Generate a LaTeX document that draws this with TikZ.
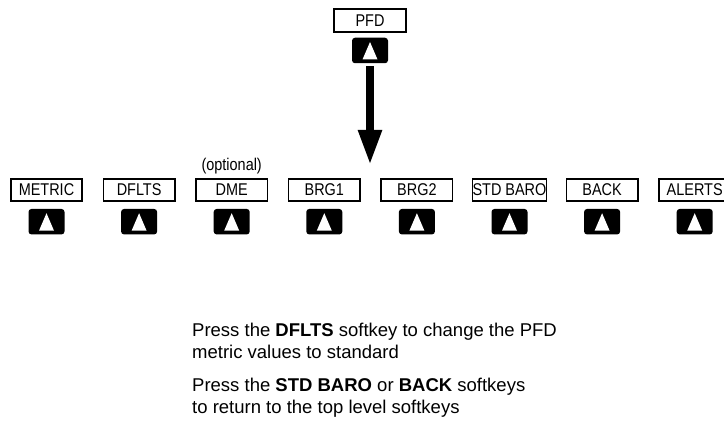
\documentclass[tikz,border=0pt]{standalone}
\usepackage{fontspec}
\setmainfont{Liberation Sans}
\newfontfamily\keyfont[FakeStretch=0.85]{Liberation Sans}
\usetikzlibrary{arrows.meta, positioning}

\begin{document}
\begin{tikzpicture}[
    x=1pt, y=-1pt,
    softkey/.style={rectangle, draw=black, line width=1.6pt, minimum width=71.5pt, minimum height=22.5pt, inner sep=0pt, font=\keyfont\fontsize{17}{18}\selectfont},
    keybtn/.style={rectangle, rounded corners=3pt, fill=black, minimum width=36pt, minimum height=25.5pt, inner sep=0pt,
        path picture={\fill[white, sharp corners] ([xshift=-7.5pt,yshift=-9pt]path picture bounding box.center) -- ([xshift=7.5pt,yshift=-9pt]path picture bounding box.center) -- ([yshift=8.5pt]path picture bounding box.center) -- cycle;}},
    arrow/.style={-{Triangle[length=35pt, width=22pt]}, line width=8pt},
    note/.style={anchor=base west, inner sep=0pt, font=\fontsize{18.5}{22}\selectfont}
]
    \useasboundingbox (0,0) rectangle (724,427);

    % Top level key
    \node[softkey] (pfd) at (370, 20.5) {PFD};
    \node[keybtn] (pfdkey) at (370, 50.5) {};

    % Softkey row
    \node[softkey] (metric) at (46.5, 190) {METRIC};
    \node[softkey] (dflts) at (139.1, 190) {DFLTS};
    \node[softkey] (dme) at (231.7, 190) {DME};
    \node[softkey] (brgone) at (324.3, 190) {BRG1};
    \node[softkey] (brgtwo) at (416.9, 190) {BRG2};
    \node[softkey] (stdbaro) at (509.5, 190) {STD BARO};
    \node[softkey] (back) at (602.1, 190) {BACK};
    \node[softkey] (alerts) at (694.7, 190) {ALERTS};
    \node[font=\keyfont\fontsize{17}{18}\selectfont, inner sep=0pt] (optional) at (231.7, 166) {(optional)};

    % Buttons
    \node[keybtn] (metrickey) at (46.5, 221.7) {};
    \node[keybtn] (dfltskey) at (139.1, 221.7) {};
    \node[keybtn] (dmekey) at (231.7, 221.7) {};
    \node[keybtn] (brgonekey) at (324.3, 221.7) {};
    \node[keybtn] (brgtwokey) at (416.9, 221.7) {};
    \node[keybtn] (stdbarokey) at (509.5, 221.7) {};
    \node[keybtn] (backkey) at (602.1, 221.7) {};
    \node[keybtn] (alertskey) at (694.7, 221.7) {};

    % Arrow down to the row
    \coordinate (tip) at (370, 165);
    \draw[arrow, shorten <=3pt] (pfdkey.south) -- (tip);

    % Notes
    \node[note] (noteone) at (192, 337) {Press the \textbf{DFLTS} softkey to change the PFD};
    \node[note] (notetwo) at (192, 359) {metric values to standard};
    \node[note] (notethree) at (192, 392) {Press the \textbf{STD BARO} or \textbf{BACK} softkeys};
    \node[note] (notefour) at (192, 414) {to return to the top level softkeys};
\end{tikzpicture}
\end{document}
